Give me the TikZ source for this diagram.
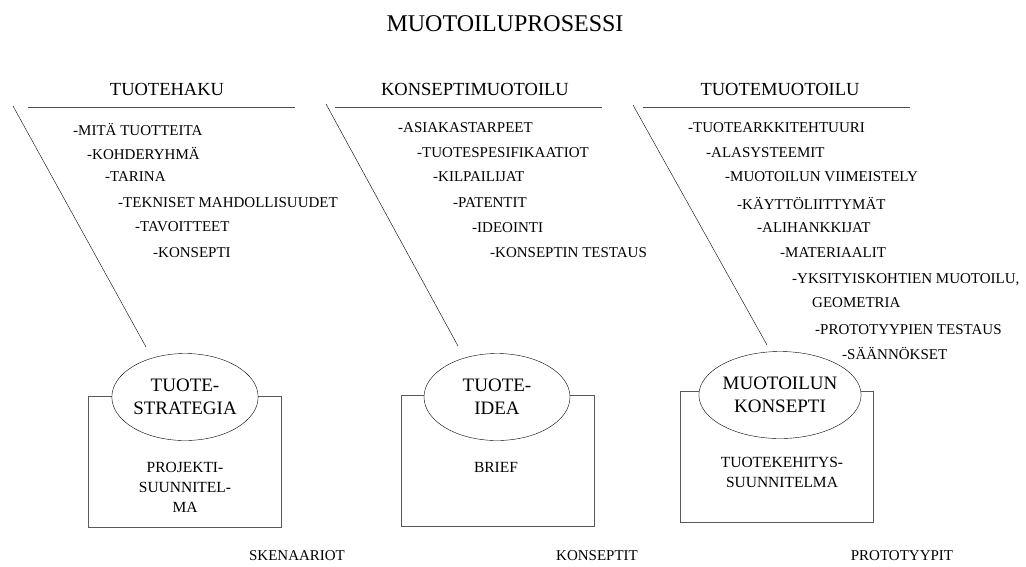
\documentclass[tikz,border=0pt]{standalone}
\usepackage{fontspec}
\setmainfont{Liberation Serif}
\usetikzlibrary{shapes.geometric}

\tikzset{
  item/.style={anchor=west,inner sep=0pt,font=\fontsize{15}{17}\selectfont},
  head/.style={inner sep=0pt,font=\fontsize{18.5}{21}\selectfont},
  phase/.style={ellipse,draw,fill=white,align=center,inner sep=0pt,
    minimum width=146pt,minimum height=87pt,font=\fontsize{19}{23}\selectfont},
  doc/.style={draw=black!65,line width=1pt,minimum width=193pt,minimum height=131pt},
  inside/.style={align=center,inner sep=0pt,font=\fontsize{15.5}{20}\selectfont},
  result/.style={inner sep=0pt,font=\fontsize{15}{17}\selectfont}
}

\begin{document}
\begin{tikzpicture}[x=1pt,y=-1pt]
      \useasboundingbox (0,0) rectangle (1026,566);
      \node[inner sep=0pt,font=\fontsize{24}{28}\selectfont] (title) at (505,24) {MUOTOILUPROSESSI};

      \node[head] (h1) at (167,89) {TUOTEHAKU};
      \node[head] (h2) at (475,89) {KONSEPTIMUOTOILU};
      \node[head] (h3) at (780,89) {TUOTEMUOTOILU};
      \draw[black!70] (28,107.5) -- (295,107.5);
      \draw[black!70] (335,107.5) -- (602,107.5);
      \draw[black!70] (643,107.5) -- (910,107.5);

      \coordinate (s1) at (13,106);
      \coordinate (e1) at (146,347);
      \coordinate (s2) at (326,104);
      \coordinate (e2) at (458,346);
      \coordinate (s3) at (633,105);
      \coordinate (e3) at (767,345);
      \draw (s1) -- (e1);
      \draw (s2) -- (e2);
      \draw (s3) -- (e3);

      \node[item] (a1) at (73,129) {-MITÄ TUOTTEITA};
      \node[item] (a2) at (87,153) {-KOHDERYHMÄ};
      \node[item] (a3) at (105,177) {-TARINA};
      \node[item] (a4) at (118,203) {-TEKNISET MAHDOLLISUUDET};
      \node[item] (a5) at (135,227) {-TAVOITTEET};
      \node[item] (a6) at (153,253) {-KONSEPTI};

      \node[item] (b1) at (398,128) {-ASIAKASTARPEET};
      \node[item] (b2) at (417,153) {-TUOTESPESIFIKAATIOT};
      \node[item] (b3) at (433,177) {-KILPAILIJAT};
      \node[item] (b4) at (453,203) {-PATENTIT};
      \node[item] (b5) at (472,228) {-IDEOINTI};
      \node[item] (b6) at (490,253) {-KONSEPTIN TESTAUS};

      \node[item] (c1) at (688,128) {-TUOTEARKKITEHTUURI};
      \node[item] (c2) at (706,153) {-ALASYSTEEMIT};
      \node[item] (c3) at (725,177) {-MUOTOILUN VIIMEISTELY};
      \node[item] (c4) at (737,203) {-KÄYTTÖLIITTYMÄT};
      \node[item] (c5) at (757,228) {-ALIHANKKIJAT};
      \node[item] (c6) at (780,253) {-MATERIAALIT};
      \node[item] (c7) at (792,280) {-YKSITYISKOHTIEN MUOTOILU,};
      \node[item] (c8) at (812,303) {GEOMETRIA};
      \node[item] (c9) at (815,330) {-PROTOTYYPIEN TESTAUS};
      \node[item] (c10) at (842,353) {-SÄÄNNÖKSET};

      \node[doc] (d1) at (184.5,461.5) {};
      \node[doc] (d2) at (498,460.5) {};
      \node[doc] (d3) at (777,457) {};
      \node[phase] (p1) at (185,397) {TUOTE-\\STRATEGIA};
      \node[phase] (p2) at (497,397) {TUOTE-\\IDEA};
      \node[phase] (p3) at (780,395) {MUOTOILUN\\KONSEPTI};

      \node[inside] (t1) at (185,487) {PROJEKTI-\\SUUNNITEL-\\MA};
      \node[inside] (t2) at (496,467) {BRIEF};
      \node[inside] (t3) at (782,472) {TUOTEKEHITYS-\\SUUNNITELMA};

      \node[result] (r1) at (297,556) {SKENAARIOT};
      \node[result] (r2) at (597,556) {KONSEPTIT};
      \node[result] (r3) at (902,556) {PROTOTYYPIT};
\end{tikzpicture}
\end{document}
